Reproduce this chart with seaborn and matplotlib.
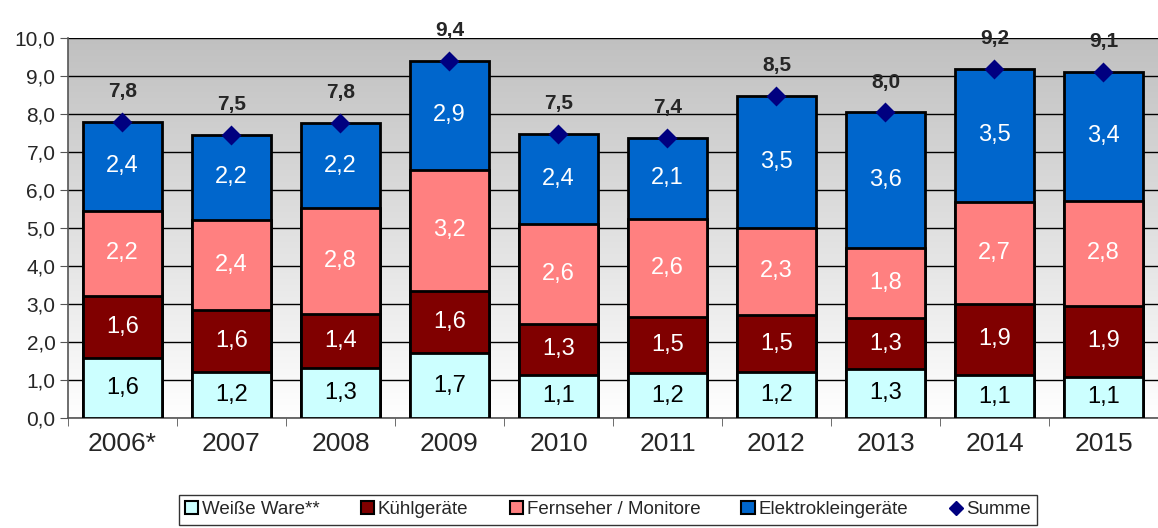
import numpy as np
import matplotlib
matplotlib.use('Agg')
import matplotlib.pyplot as plt
import seaborn as sns
from matplotlib.patches import Patch
from matplotlib.lines import Line2D

# data
jahre = ['2006*', '2007', '2008', '2009', '2010', '2011', '2012', '2013', '2014', '2015']
weisse_ware = [1.58, 1.21, 1.32, 1.71, 1.14, 1.18, 1.20, 1.29, 1.13, 1.08]
kuehlgeraete = [1.64, 1.63, 1.42, 1.63, 1.34, 1.48, 1.51, 1.34, 1.88, 1.87]
fernseher = [2.22, 2.38, 2.78, 3.19, 2.62, 2.58, 2.30, 1.84, 2.68, 2.77]
elektroklein = [2.36, 2.24, 2.24, 2.87, 2.38, 2.14, 3.47, 3.57, 3.50, 3.39]

serien = ['Weiße Ware**', 'Kühlgeräte', 'Fernseher / Monitore', 'Elektrokleingeräte']
farben = ['#ccffff', '#800000', '#ff8080', '#0066cc']
textfarben = ['black', 'white', 'white', 'white']

sns.set_style('white')
plt.rcParams['font.family'] = ['Liberation Sans', 'DejaVu Sans']

werte = np.array([weisse_ware, kuehlgeraete, fernseher, elektroklein])
kum = np.cumsum(werte, axis=0)
summe = kum[-1]

fig = plt.figure(figsize=(11.58, 5.28), dpi=100)
ax = fig.add_axes([0.0587, 110 / 528, 1 - 0.0587, 380 / 528])

# gradient background gray -> white
grad = np.linspace(0, 1, 256).reshape(-1, 1)
ax.imshow(grad, extent=[0, 1, 0, 1], transform=ax.transAxes, aspect='auto',
          cmap=matplotlib.colors.LinearSegmentedColormap.from_list('g', ['#c0c0c0', '#ffffff']),
          zorder=0)

# stacked bars: draw cumulative totals from top layer down
for i in range(3, -1, -1):
    sns.barplot(x=jahre, y=kum[i], color=farben[i], width=0.72, saturation=1,
                edgecolor='black', linewidth=2, ax=ax, zorder=3)

# segment labels
for i in range(4):
    unten = kum[i] - werte[i]
    for j in range(len(jahre)):
        ax.text(j, unten[j] + werte[i][j] / 2, f'{werte[i][j]:.1f}'.replace('.', ','),
                ha='center', va='center', fontsize=17, color=textfarben[i], zorder=5)

# sum markers and labels
sns.pointplot(x=jahre, y=summe, linestyle='none', markers='D', color='#000080',
              markersize=8, ax=ax, zorder=6)
for j in range(len(jahre)):
    ax.annotate(f'{summe[j]:.1f}'.replace('.', ','), (j, summe[j]), xytext=(0, 15),
                textcoords='offset points', ha='center', va='bottom',
                fontsize=15, fontweight='bold', annotation_clip=False)

ax.set_xlim(-0.5, len(jahre) - 0.5)
ax.set_ylim(0, 10)
ax.set_yticks(np.arange(0, 10.5, 1))
ax.set_yticklabels([f'{v:.1f}'.replace('.', ',') for v in np.arange(0, 10.5, 1)], fontsize=15)
ax.yaxis.grid(True, color='black', linewidth=1)
ax.set_axisbelow(True)
for sp in ['top', 'right']:
    ax.spines[sp].set_visible(False)
for sp in ['left', 'bottom']:
    ax.spines[sp].set_color('#555555')
    ax.spines[sp].set_linewidth(1.2)
ax.tick_params(axis='y', length=6, direction='out', left=True, color='#555555', pad=3)
ax.set_xticks(np.arange(len(jahre)))
ax.set_xticklabels(jahre, fontsize=19)
ax.tick_params(axis='x', length=0, pad=10)
ax.set_xticks(np.arange(-0.5, len(jahre)), minor=True)
ax.tick_params(axis='x', which='minor', length=6, direction='out', bottom=True, color='#555555')
ax.set_xlabel('')
ax.set_ylabel('')

# legend
handles = [Patch(facecolor=farben[i], edgecolor='black', linewidth=1.5, label=serien[i]) for i in range(4)]
handles.append(Line2D([], [], marker='D', color='#000080', linestyle='none', markersize=7, label='Summe'))
leg = fig.legend(handles=handles, loc='lower center', bbox_to_anchor=(0.525, -0.012), ncol=5,
                 fontsize=13.5, frameon=True, fancybox=False, handlelength=0.7, handleheight=0.7,
                 handletextpad=0.2, columnspacing=2.2, borderpad=0.35)
leg.get_frame().set_edgecolor('black')
leg.get_frame().set_linewidth(1)

fig.savefig('out.png', dpi=100)
